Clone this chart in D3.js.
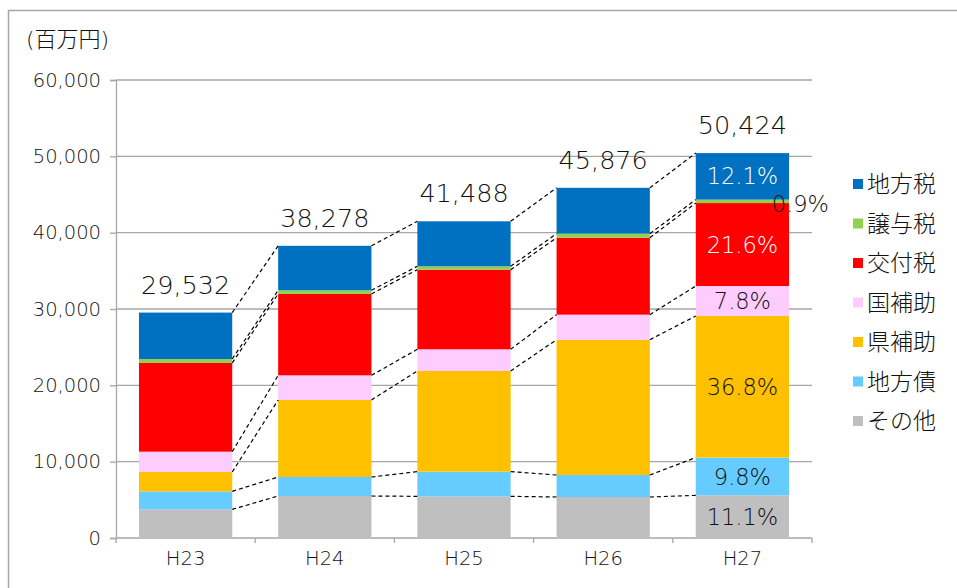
<!DOCTYPE html>
<html>
<head>
<meta charset="utf-8">
<script src="https://cdn.jsdelivr.net/npm/d3@7"></script>
<style>
  body { margin: 0; background: #fff; }
  svg { display: block; font-family: "DejaVu Sans", "Noto Sans CJK JP", sans-serif; font-weight: 200; }
</style>
</head>
<body>
<div class="chart"></div>
<script>
// years and revenue sources (百万円)
var years = ['H23', 'H24', 'H25', 'H26', 'H27'];
var keys = ['その他', '地方債', '県補助', '国補助', '交付税', '譲与税', '地方税']; // bottom -> top
var colors = ['#BFBFBF', '#66CCFF', '#FFC000', '#FFCCFF', '#FF0000', '#92D050', '#0070C0'];

var sonota   = [3750, 5500, 5460, 5370, 5590];
var chihosai = [2360, 2490, 3230, 2880, 4950];
var kenhojo  = [2540, 10090, 13190, 17730, 18540];
var kunihojo = [2660, 3230, 2840, 3280, 3930];
var kofuzei  = [11620, 10660, 10430, 10080, 10870];
var joyozei  = [520, 480, 440, 530, 450];
var chihozei = [6082, 5828, 5898, 6006, 6094];

var yTicks = [0, 10000, 20000, 30000, 40000, 50000, 60000];

var W = 957, H = 588;
var pl = 116, pr = 812, pt = 80, pb = 538;
var ink = '#111';

var series = [sonota, chihosai, kenhojo, kunihojo, kofuzei, joyozei, chihozei];
var rows = years.map(function(yr, i){
	var r = { year: yr };
	keys.forEach(function(k, j){ r[k] = series[j][i]; });
	return r;
});
var totals = rows.map(function(r){ return d3.sum(keys, function(k){ return r[k]; }); });

var svg = d3.select('.chart').append('svg')
	.attr('width', W)
	.attr('height', H);

// outer frame
svg.append('rect')
	.attr('x', 8.5).attr('y', 10.5)
	.attr('width', W + 20).attr('height', H + 20)
	.attr('fill', 'none')
	.attr('stroke', '#a6a6a6')
	.attr('stroke-width', 1.5);

var x = d3.scaleBand().domain(years).range([pl, pr]).paddingInner(0.33).paddingOuter(0.165);
var y = d3.scaleLinear().domain([0, 60000]).range([pb, pt]);
var color = d3.scaleOrdinal().domain(keys).range(colors);

/*--------------------------- GRID + AXES ---------------------------*/

svg.append('g').selectAll('line').data(yTicks.slice(1)).enter()
	.append('line')
	.attr('x1', pl).attr('x2', pr)
	.attr('y1', function(d){ return y(d); })
	.attr('y2', function(d){ return y(d); })
	.attr('stroke', '#a6a6a6')
	.attr('stroke-width', 1.3);

var yAxis = svg.append('g')
	.attr('transform', 'translate(' + pl + ',0)')
	.call(d3.axisLeft(y).tickValues(yTicks).tickSize(6).tickPadding(9).tickFormat(d3.format(',')))
	.attr('font-family', null)
	.attr('font-size', null);
yAxis.select('.domain').attr('stroke', '#a6a6a6').attr('stroke-width', 1.3);
yAxis.selectAll('.tick line').attr('stroke', '#a6a6a6').attr('stroke-width', 1.3);
yAxis.selectAll('.tick text')
	.attr('font-size', 19.5)
	.attr('fill', ink);

var xEdge = years.map(function(d){ return x(d) - x.step() * x.paddingInner() / 2; });
xEdge.push(pr);
svg.append('line')
	.attr('x1', pl).attr('x2', pr)
	.attr('y1', pb).attr('y2', pb)
	.attr('stroke', '#a6a6a6').attr('stroke-width', 1.3);
svg.append('g').selectAll('line').data(xEdge).enter()
	.append('line')
	.attr('x1', function(d){ return d; }).attr('x2', function(d){ return d; })
	.attr('y1', pb).attr('y2', pb + 5)
	.attr('stroke', '#a6a6a6').attr('stroke-width', 1.3);

svg.append('g').selectAll('text').data(years).enter()
	.append('text')
	.attr('x', function(d){ return x(d) + x.bandwidth() / 2; })
	.attr('y', 565)
	.attr('text-anchor', 'middle')
	.attr('font-size', 19.5)
	.attr('fill', ink)
	.text(function(d){ return d; });

svg.append('text')
	.attr('x', 26).attr('y', 47)
	.attr('font-size', 22)
	.attr('fill', ink)
	.text('(百万円)');

/*--------------------------- STACKED BARS ---------------------------*/

var stack = d3.stack().keys(keys)(rows);

svg.append('g').selectAll('g').data(stack).enter()
	.append('g')
	.attr('fill', function(d){ return color(d.key); })
	.selectAll('rect').data(function(d){ return d; }).enter()
	.append('rect')
	.attr('x', function(d){ return x(d.data.year); })
	.attr('y', function(d){ return y(d[1]); })
	.attr('width', x.bandwidth())
	.attr('height', function(d){ return y(d[0]) - y(d[1]); });

/*--------------------------- CONNECTORS ---------------------------*/

var links = [];
stack.forEach(function(layer){
	for (var i = 0; i < years.length - 1; i++) {
		links.push({ a: layer[i], b: layer[i + 1] });
	}
});
svg.append('g').selectAll('line').data(links).enter()
	.append('line')
	.attr('x1', function(d){ return x(d.a.data.year) + x.bandwidth(); })
	.attr('y1', function(d){ return y(d.a[1]); })
	.attr('x2', function(d){ return x(d.b.data.year); })
	.attr('y2', function(d){ return y(d.b[1]); })
	.attr('stroke', '#000')
	.attr('stroke-width', 1.2)
	.attr('stroke-dasharray', '4,3');

/*--------------------------- LABELS ---------------------------*/

svg.append('g').selectAll('text').data(totals).enter()
	.append('text')
	.attr('x', function(d, i){ return x(years[i]) + x.bandwidth() / 2; })
	.attr('y', function(d){ return y(d) - 19; })
	.attr('text-anchor', 'middle')
	.attr('font-size', 25.5)
	.attr('fill', ink)
	.text(d3.format(','));

var last = years.length - 1;
var pct = d3.format('.1%');
var whiteText = ['地方税', '交付税'];
svg.append('g').selectAll('text').data(stack).enter()
	.append('text')
	.attr('x', function(d){
		var cx = x(years[last]) + x.bandwidth() / 2;
		return d.key === '譲与税' ? cx + 58 : cx;
	})
	.attr('y', function(d){ return (y(d[last][0]) + y(d[last][1])) / 2 + (d.key === '譲与税' ? 3 : 0); })
	.attr('dy', '0.36em')
	.attr('text-anchor', 'middle')
	.attr('font-size', 22.5)
	.attr('fill', function(d){ return whiteText.indexOf(d.key) >= 0 ? '#fff' : ink; })
	.text(function(d){ return pct((d[last][1] - d[last][0]) / totals[last]); });

/*--------------------------- LEGEND ---------------------------*/

var legend = svg.append('g').selectAll('g').data(keys.slice().reverse()).enter()
	.append('g')
	.attr('transform', function(d, i){ return 'translate(853,' + (184 + i * 39.5) + ')'; });
legend.append('rect')
	.attr('x', 0).attr('y', -5)
	.attr('width', 10).attr('height', 10)
	.attr('fill', function(d){ return color(d); });
legend.append('text')
	.attr('x', 14)
	.attr('dy', '0.36em')
	.attr('font-size', 23)
	.attr('fill', ink)
	.text(function(d){ return d; });
</script>
</body>
</html>
